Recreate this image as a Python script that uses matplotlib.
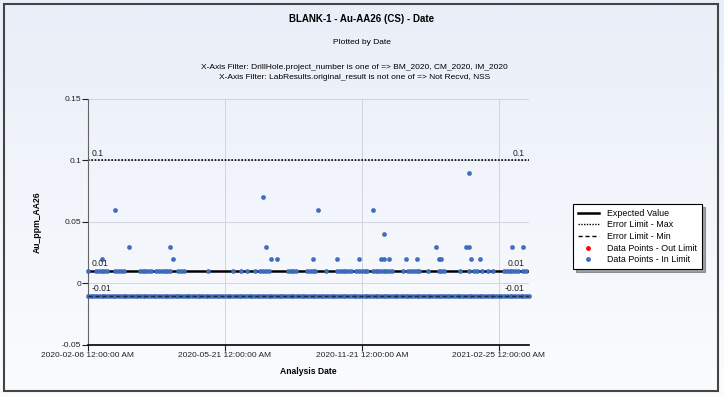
import numpy as np
import matplotlib
matplotlib.use('Agg')
import matplotlib.pyplot as plt
from matplotlib.patches import Rectangle
from matplotlib.colors import LinearSegmentedColormap
from matplotlib.lines import Line2D

plt.rcParams['font.family'] = ['Liberation Sans', 'DejaVu Sans']

# x axis is one slot per analysis date (category axis)
n_dates = 162
x_tick_idx = [0, 50, 100, 150]
x_tick_labels = ['2020-02-06 12:00:00 AM', '2020-05-21 12:00:00 AM',
                 '2020-11-21 12:00:00 AM', '2021-02-25 12:00:00 AM']
y_ticks = [-0.05, 0, 0.05, 0.1, 0.15]
y_tick_labels = ['-0.05', '0', '0.05', '0.1', '0.15']

expected_value = 0.01
limit_max = 0.1
limit_min = -0.01

# date slots holding each reported result (Au ppm)
idx_m001 = list(range(n_dates))
idx_001 = [0, 3, 4, 5, 6, 7, 10, 11, 12, 13, 19, 20, 21, 22, 23, 25, 26, 27, 28, 29,
           30, 33, 34, 35, 44, 53, 56, 58, 61, 63, 64, 65, 66, 73, 74, 75, 76, 80,
           81, 82, 83, 87, 91, 92, 93, 94, 95, 96, 98, 99, 100, 101, 102, 104, 105,
           106, 107, 108, 109, 110, 111, 115, 117, 118, 119, 120, 121, 124, 128,
           129, 130, 136, 139, 141, 142, 144, 146, 148, 152, 153, 154, 155, 156,
           157, 159, 160]
idx_002 = [5, 31, 67, 69, 82, 91, 99, 107, 108, 110, 116, 120, 128, 129, 140, 143]
idx_003 = [15, 30, 65, 127, 138, 139, 155, 159]
idx_004 = [108]
idx_006 = [10, 84, 104]
idx_007 = [64]
idx_009 = [139]

xs = idx_m001 + idx_001 + idx_002 + idx_003 + idx_004 + idx_006 + idx_007 + idx_009
ys = ([-0.01] * len(idx_m001) + [0.01] * len(idx_001) + [0.02] * len(idx_002)
      + [0.03] * len(idx_003) + [0.04] * len(idx_004) + [0.06] * len(idx_006)
      + [0.07] * len(idx_007) + [0.09] * len(idx_009))

fig = plt.figure(figsize=(7.24, 3.97), dpi=100)

# background gradient
bg = fig.add_axes([0, 0, 1, 1], zorder=-10)
grad = np.linspace(0, 1, 256).reshape(-1, 1)
cmap = LinearSegmentedColormap.from_list('bg', ['#e9eef8', '#fbfcfe'])
bg.imshow(grad, aspect='auto', cmap=cmap, extent=[0, 1, 0, 1])
bg.axis('off')
fig.patches.append(Rectangle((0.006, 0.015), 0.986, 0.975, transform=fig.transFigure,
                             fill=False, edgecolor='#444444', lw=1.5))

ax = fig.add_axes([0.1215, 0.131, 0.609, 0.62])
ax.patch.set_alpha(0)

ax.axhline(expected_value, color='black', lw=1.8, zorder=2)
ax.axhline(limit_max, color='black', lw=1.2, ls=(0, (1, 1)), zorder=2)
ax.plot(xs, ys, 'o', color='#3f6fc0', ms=3, mec='#2f5aa8', mew=0.3,
        zorder=3, clip_on=False)
ax.axhline(limit_min, color='#1a2a55', lw=1.0, ls=(0, (3, 2)), zorder=4)

ax.set_xlim(0, 161)
ax.set_ylim(-0.05, 0.15)
ax.set_yticks(y_ticks)
ax.set_yticklabels(y_tick_labels)
ax.set_xticks(x_tick_idx)
ax.set_xticklabels(x_tick_labels)
ax.tick_params(labelsize=6, colors='#222222', length=4, width=0.8, pad=1)
ax.grid(True, color='#d0d5de', lw=0.7)
ax.set_axisbelow(True)
for s in ['top', 'right']:
    ax.spines[s].set_visible(False)
ax.spines['left'].set_color('#666666')
ax.spines['bottom'].set_color('black')
ax.spines['bottom'].set_linewidth(1.2)

for val, lab in [(limit_max, '0.1'), (expected_value, '0.01'), (limit_min, '-0.01')]:
    ax.annotate(lab, (1.5, val), xytext=(0, 2), textcoords='offset points',
                fontsize=6.2, ha='left', va='bottom', color='#222222')
    ax.annotate(lab, (159.5, val), xytext=(0, 2), textcoords='offset points',
                fontsize=6.2, ha='right', va='bottom', color='#222222')

ax.set_ylabel('Au_ppm_AA26', fontsize=6.2, fontweight='bold', labelpad=14)
ax.set_xlabel('Analysis Date', fontsize=6.2, fontweight='bold', labelpad=6)

fig.text(0.5, 0.952, 'BLANK-1 - Au-AA26 (CS) - Date', ha='center', va='center',
         fontsize=7, fontweight='bold')
fig.text(0.5, 0.892, 'Plotted by Date', ha='center', va='center', fontsize=6)
fig.text(0.49, 0.831, 'X-Axis Filter: DrillHole.project_number is one of => BM_2020, CM_2020, IM_2020',
         ha='center', va='center', fontsize=6)
fig.text(0.49, 0.804, 'X-Axis Filter: LabResults.original_result is not one of => Not Recvd, NSS',
         ha='center', va='center', fontsize=6)

handles = [Line2D([], [], color='black', lw=1.8),
           Line2D([], [], color='black', lw=1.0, ls=(0, (1, 1))),
           Line2D([], [], color='black', lw=1.0, ls=(0, (3, 2))),
           Line2D([], [], color='red', marker='o', ls='', ms=2.5),
           Line2D([], [], color='#3f6fc0', marker='o', ls='', ms=2.5)]
labels = ['Expected Value', 'Error Limit - Max', 'Error Limit - Min',
          'Data Points - Out Limit', 'Data Points - In Limit']
leg = fig.legend(handles, labels, loc='upper left', bbox_to_anchor=(0.785, 0.498),
                 fontsize=6.4, frameon=True, fancybox=False, shadow=True,
                 edgecolor='black', handlelength=2.4, labelspacing=0.3,
                 borderpad=0.55, handletextpad=0.9)
leg.get_frame().set_linewidth(0.8)

fig.savefig('out.png', dpi=100)
